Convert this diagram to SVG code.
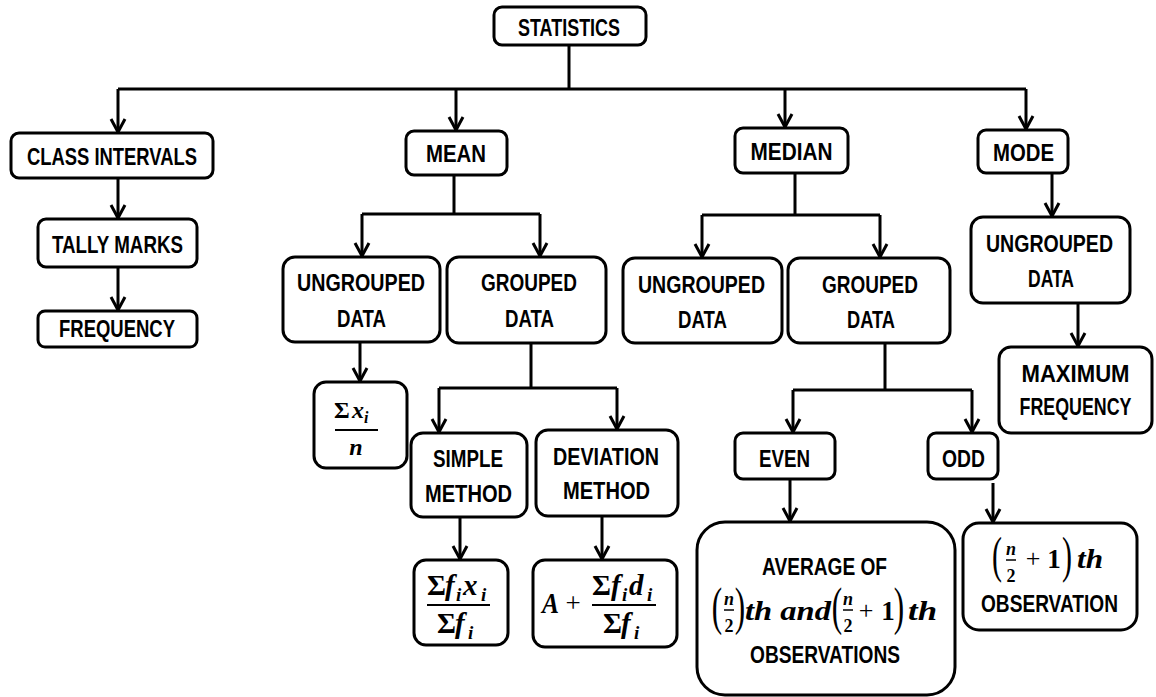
<svg xmlns="http://www.w3.org/2000/svg" width="1156" height="697" viewBox="0 0 1156 697">
<style>
.b{fill:#fff;stroke:#000;stroke-width:3}
.t{font-family:"Liberation Sans",Arial,sans-serif;font-weight:bold;font-size:24px;text-anchor:middle;fill:#000}
.m{font-family:"Liberation Serif","Times New Roman",serif;font-style:italic;font-weight:bold;fill:#000}
.u{font-family:"Liberation Serif","Times New Roman",serif;font-weight:bold;fill:#000}
.p{font-family:"Liberation Serif","Times New Roman",serif;font-weight:normal;fill:#000;text-anchor:middle}
.c{fill:none;stroke:#000;stroke-width:3}
.bar{stroke:#000;stroke-width:2}
</style>
<defs>
<marker id="ah" markerUnits="userSpaceOnUse" markerWidth="18" markerHeight="18" viewBox="-2 -9 18 18" refX="13" refY="0" orient="auto" overflow="visible">
<path d="M0,-7 L13,0 L0,7" fill="none" stroke="#000" stroke-width="3"/>
</marker>
</defs>
<rect width="1156" height="697" fill="#fff"/>
<g id="connectors">
<path class="c" d="M569,45 V89 M118,89 H1026"/>
<path class="c" d="M118,89 V132" marker-end="url(#ah)"/>
<path class="c" d="M456,89 V130" marker-end="url(#ah)"/>
<path class="c" d="M785,89 V127" marker-end="url(#ah)"/>
<path class="c" d="M1026,89 V129" marker-end="url(#ah)"/>
<path class="c" d="M118,178 V218" marker-end="url(#ah)"/>
<path class="c" d="M118,267 V310" marker-end="url(#ah)"/>
<path class="c" d="M454,175 V214 M362,214 H540"/>
<path class="c" d="M362,214 V256" marker-end="url(#ah)"/>
<path class="c" d="M540,214 V256" marker-end="url(#ah)"/>
<path class="c" d="M360,342 V381" marker-end="url(#ah)"/>
<path class="c" d="M531,343 V388 M439,388 H617"/>
<path class="c" d="M439,388 V432" marker-end="url(#ah)"/>
<path class="c" d="M617,388 V429" marker-end="url(#ah)"/>
<path class="c" d="M460,517 V559" marker-end="url(#ah)"/>
<path class="c" d="M602,516 V559" marker-end="url(#ah)"/>
<path class="c" d="M795,173 V215 M702,215 H880"/>
<path class="c" d="M702,215 V257" marker-end="url(#ah)"/>
<path class="c" d="M880,215 V257" marker-end="url(#ah)"/>
<path class="c" d="M885,343 V390 M793,390 H972"/>
<path class="c" d="M793,390 V432" marker-end="url(#ah)"/>
<path class="c" d="M972,390 V432" marker-end="url(#ah)"/>
<path class="c" d="M790,479 V521" marker-end="url(#ah)"/>
<path class="c" d="M993,483 V522" marker-end="url(#ah)"/>
<path class="c" d="M1052,173 V216" marker-end="url(#ah)"/>
<path class="c" d="M1078,303 V346" marker-end="url(#ah)"/>
</g>
<g id="statistics"><rect class="b" x="494" y="7" width="152" height="38" rx="8"/><text class="t" x="569" y="36" textLength="102" lengthAdjust="spacingAndGlyphs">STATISTICS</text></g>
<g id="class-intervals"><rect class="b" x="11" y="133" width="202" height="45" rx="8"/><text class="t" x="112" y="165" textLength="170" lengthAdjust="spacingAndGlyphs">CLASS INTERVALS</text></g>
<g id="tally-marks"><rect class="b" x="38" y="219" width="159" height="48" rx="8"/><text class="t" x="117.5" y="253" textLength="131" lengthAdjust="spacingAndGlyphs">TALLY MARKS</text></g>
<g id="frequency"><rect class="b" x="38" y="311" width="159" height="36" rx="7"/><text class="t" x="117" y="337" textLength="116" lengthAdjust="spacingAndGlyphs">FREQUENCY</text></g>
<g id="mean"><rect class="b" x="406" y="131" width="101" height="44" rx="8"/><text class="t" x="456" y="162" textLength="60" lengthAdjust="spacingAndGlyphs">MEAN</text></g>
<g id="mean-ungrouped"><rect class="b" x="283" y="257" width="157" height="85" rx="12"/><text class="t" x="361" y="291" textLength="128" lengthAdjust="spacingAndGlyphs">UNGROUPED</text><text class="t" x="361.5" y="327" textLength="49" lengthAdjust="spacingAndGlyphs">DATA</text></g>
<g id="mean-grouped"><rect class="b" x="447" y="257" width="159" height="86" rx="12"/><text class="t" x="529" y="291" textLength="96" lengthAdjust="spacingAndGlyphs">GROUPED</text><text class="t" x="529.5" y="327" textLength="49" lengthAdjust="spacingAndGlyphs">DATA</text></g>
<g id="sum-x-over-n"><rect class="b" x="314" y="382" width="93" height="86" rx="12"/>
<text class="u" x="334" y="418" font-size="24">Σ</text><text class="m" x="352" y="418" font-size="24">x</text><text class="m" x="364" y="423" font-size="16">i</text>
<line class="bar" x1="335" y1="430" x2="378" y2="430"/>
<text class="m" x="356" y="455" font-size="24" text-anchor="middle">n</text></g>
<g id="simple-method"><rect class="b" x="411" y="433" width="116" height="84" rx="12"/><text class="t" x="468" y="467" textLength="70" lengthAdjust="spacingAndGlyphs">SIMPLE</text><text class="t" x="468.5" y="502" textLength="87" lengthAdjust="spacingAndGlyphs">METHOD</text></g>
<g id="deviation-method"><rect class="b" x="536" y="430" width="142" height="86" rx="12"/><text class="t" x="606" y="465" textLength="106" lengthAdjust="spacingAndGlyphs">DEVIATION</text><text class="t" x="606.5" y="499" textLength="87" lengthAdjust="spacingAndGlyphs">METHOD</text></g>
<g id="simple-formula"><rect class="b" x="414" y="560" width="94" height="85" rx="12"/>
<text class="u" x="427" y="595" font-size="29">Σ</text><text class="m" x="445" y="595" font-size="29">f</text><text class="m" x="456" y="601" font-size="19">i</text><text class="m" x="463" y="595" font-size="29">x</text><text class="m" x="481" y="601" font-size="19">i</text>
<line class="bar" x1="427" y1="605" x2="490" y2="605"/>
<text class="u" x="437" y="633" font-size="29">Σ</text><text class="m" x="455" y="633" font-size="29">f</text><text class="m" x="468" y="639" font-size="19">i</text></g>
<g id="deviation-formula"><rect class="b" x="533" y="560" width="144" height="87" rx="12"/>
<text class="m" x="542" y="613" font-size="29" textLength="17" lengthAdjust="spacingAndGlyphs">A</text><text class="p" x="573" y="612" font-size="27">+</text>
<text class="u" x="592" y="595" font-size="29">Σ</text><text class="m" x="611" y="595" font-size="29">f</text><text class="m" x="622" y="601" font-size="19">i</text><text class="m" x="629" y="595" font-size="29">d</text><text class="m" x="647" y="601" font-size="19">i</text>
<line class="bar" x1="592" y1="605" x2="656" y2="605"/>
<text class="u" x="603" y="633" font-size="29">Σ</text><text class="m" x="621" y="633" font-size="29">f</text><text class="m" x="634" y="639" font-size="19">i</text></g>
<g id="median"><rect class="b" x="735" y="128" width="113" height="45" rx="8"/><text class="t" x="791.5" y="160" textLength="82" lengthAdjust="spacingAndGlyphs">MEDIAN</text></g>
<g id="median-ungrouped"><rect class="b" x="623" y="258" width="159" height="85" rx="12"/><text class="t" x="701.5" y="293" textLength="127" lengthAdjust="spacingAndGlyphs">UNGROUPED</text><text class="t" x="702.5" y="328" textLength="49" lengthAdjust="spacingAndGlyphs">DATA</text></g>
<g id="median-grouped"><rect class="b" x="788" y="258" width="162" height="85" rx="12"/><text class="t" x="870" y="293" textLength="96" lengthAdjust="spacingAndGlyphs">GROUPED</text><text class="t" x="871" y="328" textLength="48" lengthAdjust="spacingAndGlyphs">DATA</text></g>
<g id="even"><rect class="b" x="735" y="433" width="100" height="46" rx="8"/><text class="t" x="784.5" y="467" textLength="51" lengthAdjust="spacingAndGlyphs">EVEN</text></g>
<g id="odd"><rect class="b" x="928" y="433" width="70" height="46" rx="8"/><text class="t" x="963.5" y="467" textLength="43" lengthAdjust="spacingAndGlyphs">ODD</text></g>
<g id="average"><rect class="b" x="697" y="522" width="258" height="173" rx="28"/>
<text class="t" x="824.5" y="575" textLength="125" lengthAdjust="spacingAndGlyphs">AVERAGE OF</text>
<text class="p" font-size="52" transform="translate(717,624) scale(0.6,1)">(</text>
<text class="m" x="729" y="605" font-size="18" text-anchor="middle">n</text>
<line x1="724" y1="610" x2="734" y2="610" stroke="#000" stroke-width="1.5"/>
<text class="u" x="729" y="632" font-size="18" text-anchor="middle">2</text>
<text class="p" font-size="52" transform="translate(740,624) scale(0.6,1)">)</text>
<text class="m" x="745" y="620" font-size="27" textLength="86" lengthAdjust="spacingAndGlyphs">th and</text>
<text class="p" font-size="52" transform="translate(837,624) scale(0.6,1)">(</text>
<text class="m" x="848" y="605" font-size="18" text-anchor="middle">n</text>
<line x1="843" y1="610" x2="853" y2="610" stroke="#000" stroke-width="1.5"/>
<text class="u" x="848" y="632" font-size="18" text-anchor="middle">2</text>
<text class="p" x="866" y="619" font-size="26">+</text>
<text class="u" x="888" y="620" font-size="27" text-anchor="middle">1</text>
<text class="p" font-size="52" transform="translate(899,624) scale(0.6,1)">)</text>
<text class="m" x="908" y="620" font-size="27" textLength="29" lengthAdjust="spacingAndGlyphs">th</text>
<text class="t" x="825" y="663" textLength="150" lengthAdjust="spacingAndGlyphs">OBSERVATIONS</text></g>
<g id="odd-result"><rect class="b" x="963" y="523" width="174" height="107" rx="16"/>
<text class="p" font-size="50" transform="translate(997,572) scale(0.6,1)">(</text>
<text class="m" x="1011" y="555" font-size="18" text-anchor="middle">n</text>
<line x1="1006" y1="560" x2="1016" y2="560" stroke="#000" stroke-width="1.5"/>
<text class="u" x="1011" y="582" font-size="18" text-anchor="middle">2</text>
<text class="p" x="1033" y="567" font-size="26">+</text>
<text class="u" x="1054" y="568" font-size="27" text-anchor="middle">1</text>
<text class="p" font-size="50" transform="translate(1067,572) scale(0.6,1)">)</text>
<text class="m" x="1077" y="568" font-size="27" textLength="26" lengthAdjust="spacingAndGlyphs">th</text>
<text class="t" x="1049.5" y="612" textLength="137" lengthAdjust="spacingAndGlyphs">OBSERVATION</text></g>
<g id="mode"><rect class="b" x="978" y="130" width="90" height="43" rx="8"/><text class="t" x="1023.5" y="161" textLength="61" lengthAdjust="spacingAndGlyphs">MODE</text></g>
<g id="mode-ungrouped"><rect class="b" x="971" y="217" width="159" height="86" rx="12"/><text class="t" x="1049.5" y="252" textLength="127" lengthAdjust="spacingAndGlyphs">UNGROUPED</text><text class="t" x="1051" y="287" textLength="46" lengthAdjust="spacingAndGlyphs">DATA</text></g>
<g id="maximum-frequency"><rect class="b" x="999" y="347" width="153" height="86" rx="12"/><text class="t" x="1075.5" y="382" textLength="108" lengthAdjust="spacingAndGlyphs">MAXIMUM</text><text class="t" x="1075.5" y="415" font-size="22" textLength="112" lengthAdjust="spacingAndGlyphs">FREQUENCY</text></g>
</svg>
